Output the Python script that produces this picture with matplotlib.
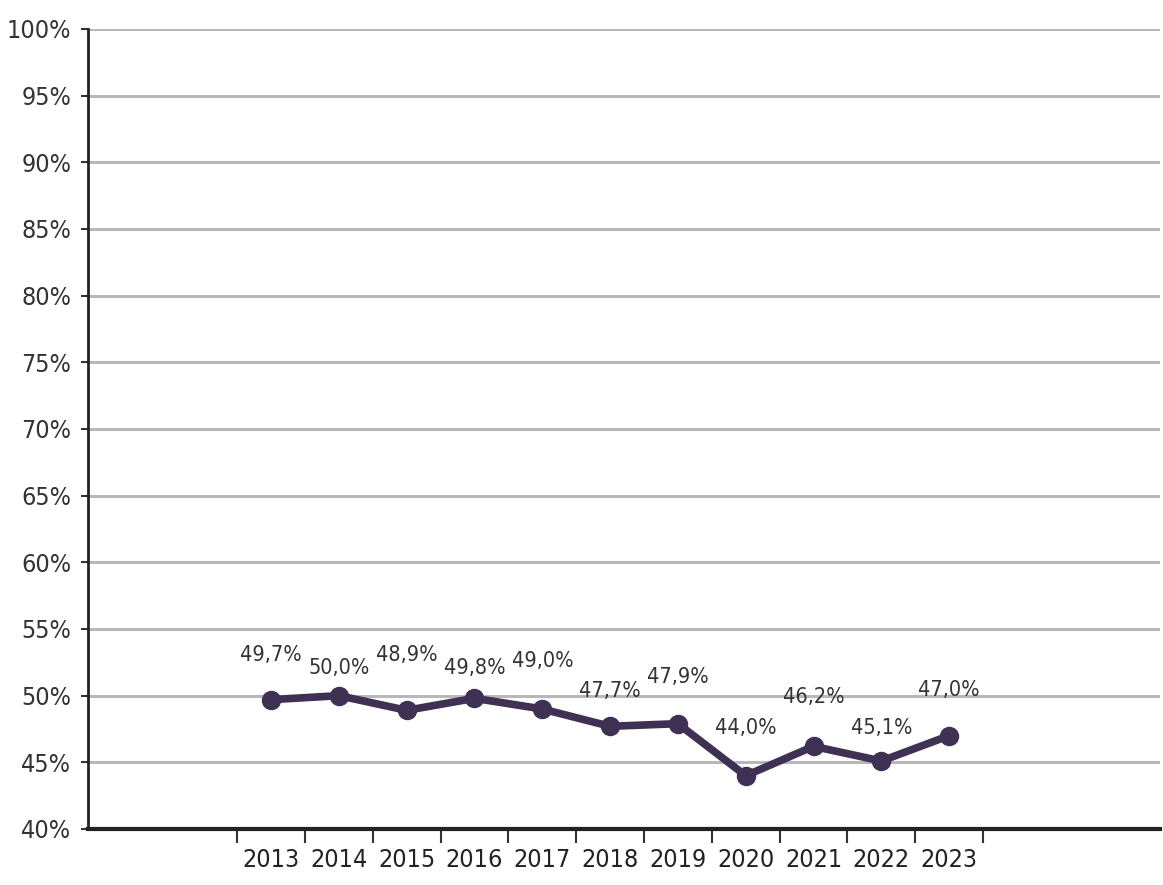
import matplotlib
matplotlib.use("Agg")
import matplotlib.pyplot as plt
from matplotlib.ticker import FixedLocator

years = ["2013", "2014", "2015", "2016", "2017", "2018", "2019", "2020", "2021", "2022", "2023"]
values = [49.7, 50.0, 48.9, 49.8, 49.0, 47.7, 47.9, 44.0, 46.2, 45.1, 47.0]
value_labels = ["49,7%", "50,0%", "48,9%", "49,8%", "49,0%", "47,7%", "47,9%", "44,0%", "46,2%", "45,1%", "47,0%"]
y_ticks = [40, 45, 50, 55, 60, 65, 70, 75, 80, 85, 90, 95, 100]

# label offsets above points (pixels), style only
label_offsets = [45, 28, 55, 30, 48, 35, 47, 48, 49, 33, 46]

plt.rcParams['font.family'] = ['DejaVu Sans']
plt.rcParams['font.stretch'] = 'condensed'

W, H = 1163, 885
fig = plt.figure(figsize=(W / 100, H / 100), dpi=100)
ax = fig.add_axes([88 / W, (H - 829) / H, (1160 - 88) / W, 800 / H])

line_color = "#3f3154"
xs = list(range(len(years)))
ax.plot(xs, values, color=line_color, lw=5.5, marker="o", ms=13, mfc=line_color, mec=line_color,
        solid_joinstyle="round", zorder=3)

for x, v, lab, off in zip(xs, values, value_labels, label_offsets):
    ax.annotate(lab, (x, v), xytext=(0, off * 0.72), textcoords="offset points",
                ha="center", va="center", fontsize=15.5, color="#333333")

ax.set_xlim(-2.70, 13.11)
ax.set_ylim(40, 100)

ax.set_yticks(y_ticks)
ax.set_yticklabels([f"{t}%" for t in y_ticks])
ax.yaxis.grid(True, color="#b8b8b8", lw=2.2)
ax.set_axisbelow(True)

ax.xaxis.set_major_locator(FixedLocator([i - 0.5 for i in range(len(years) + 1)]))
ax.xaxis.set_major_formatter(plt.NullFormatter())
ax.xaxis.set_minor_locator(FixedLocator(xs))
ax.set_xticklabels(years, minor=True)

ax.tick_params(axis="x", which="major", length=10, width=1.5, color="#333333", direction="out")
ax.tick_params(axis="x", which="minor", length=0, pad=14, labelsize=18, labelcolor="#222222")
ax.tick_params(axis="y", length=5, width=1.5, color="#333333", pad=7, labelsize=18, labelcolor="#333333")

for s in ["top", "right"]:
    ax.spines[s].set_visible(False)
ax.spines["left"].set_linewidth(2)
ax.spines["left"].set_color("#222222")
ax.spines["bottom"].set_linewidth(3)
ax.spines["bottom"].set_color("#222222")

fig.savefig("out.png", dpi=100, facecolor="white")
